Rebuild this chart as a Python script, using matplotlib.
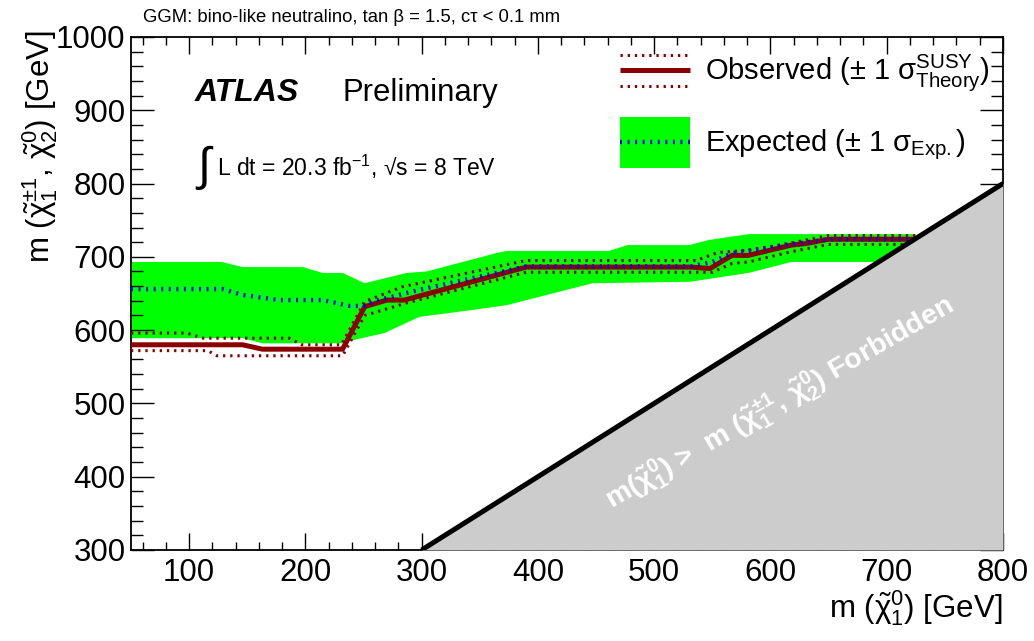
import numpy as np
import matplotlib
matplotlib.use('Agg')
import matplotlib.pyplot as plt
from matplotlib.lines import Line2D
from matplotlib.patches import Rectangle
from matplotlib.legend_handler import HandlerBase

plt.rcParams['font.family'] = ['Liberation Sans', 'DejaVu Sans']
plt.rcParams['mathtext.fontset'] = 'custom'
plt.rcParams['mathtext.rm'] = 'Liberation Sans'
plt.rcParams['mathtext.it'] = 'Liberation Sans:italic'
plt.rcParams['mathtext.bf'] = 'Liberation Sans:bold'
plt.rcParams['mathtext.default'] = 'regular'

# observed limit (solid) and +-1 sigma theory (dotted)
obs_x = [50, 146, 163, 232, 251, 270, 285, 390, 532, 548, 567, 581, 618, 630, 650, 725]
obs_y = [580, 580, 574, 574, 632, 641, 641, 686, 686, 684, 702, 702, 716, 718, 724, 724]

obs_up_x = [50, 98, 112, 186, 197, 231, 251, 283, 390, 536, 555, 581, 618, 650, 725]
obs_up_y = [596, 596, 589, 589, 580, 580, 639, 659, 695, 695, 706, 709, 719, 729, 729]

obs_dn_x = [50, 116, 124, 232, 251, 287, 390, 550, 567, 581, 618, 650, 722]
obs_dn_y = [572, 572, 565, 565, 620, 637, 679, 679, 691, 693, 707, 717, 717]

# expected limit and +-1 sigma band
exp_x = [50, 129, 146, 178, 215, 238, 252, 258, 298, 390, 532, 550, 567, 618, 650, 725]
exp_y = [656, 656, 648, 641, 641, 633, 633, 639, 655, 687, 687, 693, 705, 717, 724, 724]

band_hi_x = [50, 128, 146, 198, 215, 232, 251, 287, 304, 364, 373, 461, 477, 530, 547, 581, 725]
band_hi_y = [693, 693, 686, 686, 678, 678, 664, 678, 680, 705, 708, 708, 716, 716, 723, 731, 731]
band_lo_x = [50, 146, 163, 232, 240, 268, 287, 298, 341, 373, 447, 531, 581, 618, 725]
band_lo_y = [589, 589, 582, 582, 586, 596, 610, 618, 627, 634, 664, 666, 678, 693, 693]

# kinematic limit m(chi1) = m(chi2)
diag = np.array([300, 800])

red = '#8b0000'
dotted_red = (0, (0.75, 1.6))
dotted_blue = (0, (0.45, 1.25))


class HandlerObs(HandlerBase):
    def create_artists(self, legend, orig_handle, xdescent, ydescent, width, height, fontsize, trans):
        xx = [-xdescent, -xdescent + width]
        yc = -ydescent + height / 2
        l1 = Line2D(xx, [yc, yc], color=red, lw=3.6, solid_capstyle='butt', transform=trans)
        l2 = Line2D(xx, [yc + 0.3 * height] * 2, color=red, lw=2.2, ls=dotted_red, transform=trans)
        l3 = Line2D(xx, [yc - 0.3 * height] * 2, color=red, lw=2.2, ls=dotted_red, transform=trans)
        return [l1, l2, l3]


class HandlerExp(HandlerBase):
    def create_artists(self, legend, orig_handle, xdescent, ydescent, width, height, fontsize, trans):
        r = Rectangle((-xdescent, -ydescent), width, height, facecolor='#00ff00', edgecolor='none', transform=trans)
        yc = -ydescent + height / 2
        l = Line2D([-xdescent, -xdescent + width], [yc, yc], color='blue', lw=3.2, ls=dotted_blue, transform=trans)
        return [r, l]


fig = plt.figure(figsize=(10.34, 6.41), dpi=100)
ax = fig.add_axes([0.1267, 0.142, 0.8433, 0.8003])

band = ax.fill(np.concatenate([band_hi_x, band_lo_x[::-1]]),
               np.concatenate([band_hi_y, band_lo_y[::-1]]),
               color='#00ff00', lw=0, zorder=1)[0]
ax.plot(obs_up_x, obs_up_y, color=red, lw=2.2, ls=dotted_red, zorder=3)
ax.plot(obs_dn_x, obs_dn_y, color=red, lw=2.2, ls=dotted_red, zorder=3)
obs_line, = ax.plot(obs_x, obs_y, color=red, lw=3.6, zorder=4)
ax.plot(exp_x, exp_y, color='blue', lw=3.2, ls=dotted_blue, zorder=5)

ax.fill_between(diag, diag, 300, color='#cccccc', lw=0, zorder=6)
ax.plot(diag, diag, color='black', lw=3.6, zorder=7, solid_capstyle='butt')

ax.text(608, 500, r'm($\tilde{\chi}^{0}_{1}$) >  m ($\tilde{\chi}^{\pm1}_{1}$, $\tilde{\chi}^{0}_{2}$) Forbidden',
        color='white', fontsize=20.5, fontweight='bold', rotation=30,
        ha='center', va='center', zorder=8)

ax.set_xlim(50, 800)
ax.set_ylim(300, 1000)
ax.set_xticks(np.arange(100, 801, 100))
ax.set_xticks(np.arange(60, 800, 20), minor=True)
ax.set_yticks(np.arange(300, 1001, 100))
ax.set_yticks(np.arange(300, 1000, 20), minor=True)
ax.tick_params(which='both', direction='in', top=True, right=True, width=1, labelsize=22.5)
ax.tick_params(axis='x', which='major', length=12, pad=6)
ax.tick_params(axis='x', which='minor', length=6)
ax.tick_params(axis='y', which='major', length=16.5, pad=4)
ax.tick_params(axis='y', which='minor', length=8.5)
for s in ax.spines.values():
    s.set_linewidth(1.3)

ax.set_xlabel(r'm ($\tilde{\chi}^{0}_{1}$) [GeV]', fontsize=22.5, ha='right')
ax.xaxis.set_label_coords(1.0, -0.074)
ax.set_ylabel(r'm ($\tilde{\chi}^{\pm1}_{1}$, $\tilde{\chi}^{0}_{2}$) [GeV]', fontsize=22.5, ha='right')
ax.yaxis.set_label_coords(-0.081, 1.012)

fig.text(0.138, 0.972, 'GGM: bino-like neutralino, tan β = 1.5, cτ < 0.1 mm', fontsize=13.3, va='center')

ax.text(0.0734, 0.891, 'ATLAS', transform=ax.transAxes, fontsize=23, fontweight='bold',
        fontstyle='italic', va='center')
ax.text(0.242, 0.891, 'Preliminary', transform=ax.transAxes, fontsize=22.3, va='center')
ax.text(0.0734, 0.745, r'$\int$', transform=ax.transAxes, fontsize=34, va='center')
ax.text(0.0986, 0.747, 'L dt = 20.3 fb$^{-1}$, √s = 8 TeV', transform=ax.transAxes,
        fontsize=16.5, va='center')

ax.legend([obs_line, band],
          ['Observed (± 1 $\\sigma^{SUSY}_{Theory}$)', 'Expected (± 1 $\\sigma_{Exp.}$)'],
          handler_map={obs_line: HandlerObs(), band: HandlerExp()},
          loc='upper left', bbox_to_anchor=(0.561, 0.985), frameon=False, fontsize=21,
          handlelength=2.4, handleheight=2.315, handletextpad=0.5, labelspacing=0.72,
          borderpad=0, borderaxespad=0)

fig.savefig('out.png', dpi=100)
